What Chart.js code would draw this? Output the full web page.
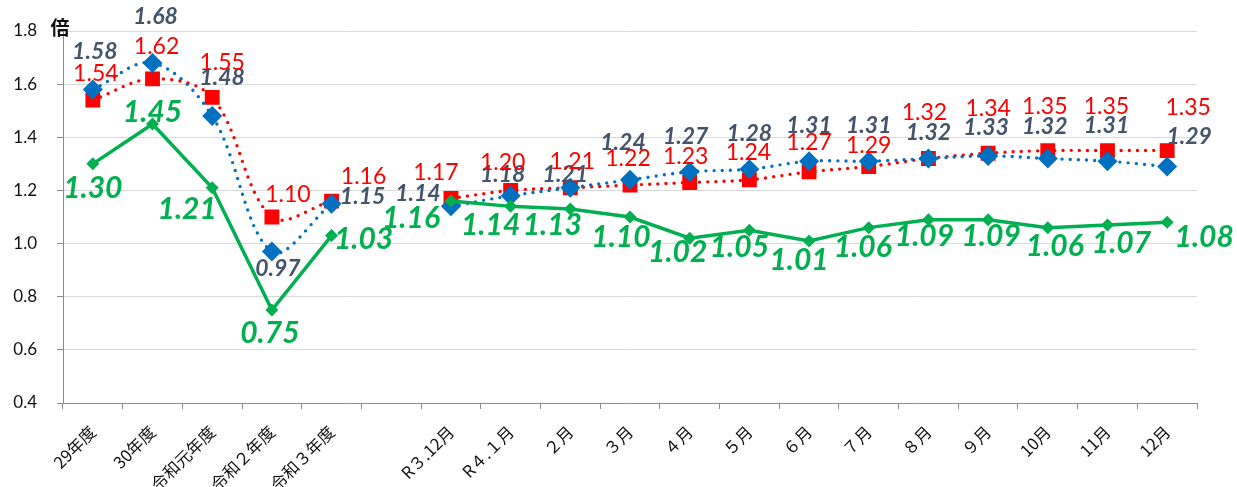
<!DOCTYPE html>
<html lang="ja">
<head>
<meta charset="utf-8">
<title>倍率の推移</title>
<script src="https://cdn.jsdelivr.net/npm/chart.js@4.4.1/dist/chart.umd.min.js"></script>
<style>
  html, body { margin: 0; padding: 0; background: #fff; }
  #wrap { position: relative; width: 1237px; height: 487px; }
</style>
</head>
<body>
<div id="wrap"><canvas id="ratioChart"></canvas></div>
<script>
/* =====================================================================
   倍率の推移 — line chart (Chart.js v4)
   1. data
   2. point label plugin + unit label
   3. chart
   ===================================================================== */

/* ---------- 1. data ---------- */
var categories = ["29年度", "30年度", "令和元年度", "令和２年度", "令和３年度", "",
  "R３.12月", "R４.１月", "２月", "３月", "４月", "５月", "６月", "７月", "８月", "９月",
  "10月", "11月", "12月"];

// red squares (dotted)
var valuesA = [1.54, 1.62, 1.55, 1.10, 1.16, null, 1.17, 1.20, 1.21, 1.22, 1.23, 1.24,
  1.27, 1.29, 1.32, 1.34, 1.35, 1.35, 1.35];
// blue diamonds (dotted)
var valuesB = [1.58, 1.68, 1.48, 0.97, 1.15, null, 1.14, 1.18, 1.21, 1.24, 1.27, 1.28,
  1.31, 1.31, 1.32, 1.33, 1.32, 1.31, 1.29];
// green (solid)
var valuesC = [1.30, 1.45, 1.21, 0.75, 1.03, null, 1.16, 1.14, 1.13, 1.10, 1.02, 1.05,
  1.01, 1.06, 1.09, 1.09, 1.06, 1.07, 1.08];

var yTickValues = [0.4, 0.6, 0.8, 1.0, 1.2, 1.4, 1.6, 1.8];
var unitLabel = "倍";

// where each value label sits, relative to its point (px)
var offsetsA = [[3, -27], [4, -32], [10, -35], [16, -22], [32, -24], null, [-15, -26],
  [-8, -28], [2, -26], [-2, -27], [-4, -26], [-1, -27], [0, -29], [0, -21], [-4, -46],
  [0, -45], [-3, -44], [-1, -44], [21, -43]];
var offsetsB = [[2, -38], [3, -46], [10, -38], [6, 17], [31, -7], null, [-33, -13],
  [-8, -21], [-5, -13], [-7, -37], [-4, -35], [0, -36], [0, -36], [0, -36], [0, -26],
  [-2, -28], [-3, -32], [-1, -36], [22, -30]];
var offsetsC = [[0, 24], [0, -12], [-25, 22], [-2, 23], [32, 4], null, [-40, 17],
  [-20, 19], [-18, 16], [-9, 20], [-12, 14], [-10, 17], [-10, 19], [-6, 20], [-4, 17],
  [3, 17], [7, 19], [14, 18], [37, 15]];

/* ---------- 2. plugins ---------- */
var pointLabels = {
  id: "pointLabels",
  afterDatasetsDraw: function (chart) {
    var ctx = chart.ctx;
    chart.data.datasets.forEach(function (ds, di) {
      var meta = chart.getDatasetMeta(di);
      ctx.save();
      ctx.font = ds.labelFont;
      ctx.fillStyle = ds.labelColor;
      ctx.textAlign = "center";
      ctx.textBaseline = "middle";
      meta.data.forEach(function (pt, i) {
        var v = ds.data[i];
        var off = ds.labelOffsets[i];
        if (v == null || !off) return;
        ctx.fillText(v.toFixed(2), pt.x + off[0], pt.y + off[1]);
      });
      ctx.restore();
    });
  }
};

var unitText = {
  id: "unitText",
  afterDraw: function (chart) {
    var ctx = chart.ctx;
    var area = chart.chartArea;
    ctx.save();
    ctx.font = "bold 19px 'Noto Sans CJK JP', sans-serif";
    ctx.fillStyle = "#111";
    ctx.textAlign = "center";
    ctx.textBaseline = "middle";
    ctx.fillText(unitLabel, area.left - 3, area.top - 3);
    ctx.restore();
  }
};

/* ---------- 3. chart ---------- */
var dotted = {
  borderDash: [0, 8.3],
  borderCapStyle: "round",
  borderWidth: 3.4,
  tension: 0.35,
  spanGaps: false
};

new Chart(document.getElementById("ratioChart").getContext("2d"), {
  type: "line",
  data: {
    labels: categories,
    datasets: [
      {
        label: "C",
        data: valuesC,
        borderColor: "#00B050",
        backgroundColor: "#00B050",
        borderWidth: 3.5,
        tension: 0,
        spanGaps: false,
        pointStyle: "rectRot",
        pointRadius: 6.5,
        pointBorderWidth: 0,
        labelFont: "italic bold 30px Lato, sans-serif",
        labelColor: "#00B050",
        labelOffsets: offsetsC
      },
      Object.assign({
        label: "B",
        data: valuesB,
        borderColor: "#0070C0",
        backgroundColor: "#0070C0",
        pointStyle: "rectRot",
        pointRadius: 10,
        pointBorderWidth: 0,
        labelFont: "italic bold 23px Lato, sans-serif",
        labelColor: "#44546A",
        labelOffsets: offsetsB
      }, dotted),
      Object.assign({
        label: "A",
        data: valuesA,
        borderColor: "#FF0000",
        backgroundColor: "#FF0000",
        pointStyle: "rect",
        pointRadius: 10.5,
        pointBorderWidth: 0,
        labelFont: "23px Lato, sans-serif",
        labelColor: "#FF0000",
        labelOffsets: offsetsA
      }, dotted)
    ]
  },
  options: {
    responsive: true,
    maintainAspectRatio: false,
    animation: false,
    layout: { padding: { left: 0, right: 40, top: 31, bottom: 0 } },
    plugins: {
      legend: { display: false },
      tooltip: { enabled: false }
    },
    scales: {
      x: {
        offset: true,
        grid: {
          offset: true,
          drawOnChartArea: false,
          drawTicks: true,
          tickLength: 6,
          color: "#8C8C8C"
        },
        border: { color: "#8C8C8C", width: 1 },
        ticks: {
          autoSkip: false,
          minRotation: 45,
          maxRotation: 45,
          padding: 13,
          color: "#111",
          font: { family: "'Noto Sans CJK JP', sans-serif", size: 16.5 }
        },
        afterFit: function (scale) { scale.height = 84; }
      },
      y: {
        min: yTickValues[0],
        max: yTickValues[yTickValues.length - 1],
        grid: {
          color: "#D9D9D9",
          tickColor: "#8C8C8C",
          tickLength: 6
        },
        border: { color: "#8C8C8C", width: 1 },
        ticks: {
          stepSize: 0.2,
          padding: 20,
          color: "#111",
          font: { family: "Lato, sans-serif", size: 17 },
          callback: function (v) { return Number(v).toFixed(1); }
        },
        afterBuildTicks: function (scale) {
          scale.ticks = yTickValues.map(function (v) { return { value: v }; });
        },
        afterFit: function (scale) { scale.width = 63; }
      }
    }
  },
  plugins: [pointLabels, unitText]
});
</script>
</body>
</html>
